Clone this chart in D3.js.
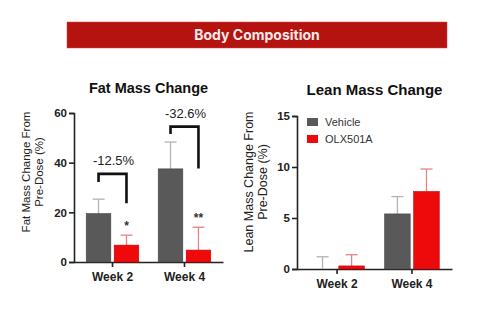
<!DOCTYPE html>
<html><head><meta charset="utf-8">
<script src="https://cdn.jsdelivr.net/npm/d3@7"></script>
<style>body{margin:0;background:#fff}svg{display:block}</style>
</head><body>
<svg id="c" width="483" height="322"></svg>
<script>
const categories = ["Week 2", "Week 4"];
const seriesNames = ["Vehicle", "OLX501A"];
const fatMean = [[19.5, 37.5], [6.8, 4.8]];
const fatErr = [[25.3, 48.3], [10.8, 14.0]];
const leanMean = [[0, 5.4], [0.3, 7.6]];
const leanErr = [[1.2, 7.1], [1.4, 9.8]];
const fatTicks = [0, 20, 40, 60];
const leanTicks = [0, 5, 10, 15];
const fatStars = ["*", "**"];
const fatPct = ["-12.5%", "-32.6%"];
// bracket: [top, leftLegBottom, rightLegBottom] in data units
const fatBracket = [[35.5, 32.2, 23.7], [54.5, 51.5, 37.7]];

const colors = ["#595959", "#ee0a0a"];
const errColors = ["#b3b3b3", "#e08585"];
const font = "'Liberation Sans', Arial, sans-serif";

const svg = d3.select("#c");
svg.append("rect").attr("x", 67).attr("y", 22).attr("width", 380).attr("height", 26)
  .attr("fill", "#b5130f").attr("stroke", "#d44").attr("stroke-width", 0.5);
svg.append("text").attr("x", 257).attr("y", 40).attr("text-anchor", "middle")
  .attr("font-family", "Inter, 'Liberation Sans', sans-serif").attr("font-weight", 700)
  .attr("font-size", 14).attr("fill", "#f6e9e9").text("Body Composition");

function panel(o) {
  const g = svg.append("g");
  const y = d3.scaleLinear().domain([0, o.max]).range([o.y0, o.y1]);
  const x = d3.scaleBand().domain(categories).range([o.x0, o.x1]).paddingInner(0.27).paddingOuter(0.17);
  const xs = d3.scaleBand().domain([0, 1]).range([0, x.bandwidth()]).paddingInner(0.12);
  const ya = g.append("g").attr("transform", `translate(${o.x0},0)`)
    .call(d3.axisLeft(y).tickValues(o.ticks).tickSize(5).tickPadding(2));
  ya.select(".domain").attr("stroke", "#222").attr("stroke-width", 1.6);
  ya.selectAll(".tick line").attr("stroke", "#222").attr("stroke-width", 1.6);
  ya.selectAll("text").attr("font-family", font).attr("font-size", 11.5).attr("font-weight", 700).attr("fill", "#222");
  const xa = g.append("g").attr("transform", `translate(0,${o.y0})`)
    .call(d3.axisBottom(x).tickSize(5).tickPadding(5).tickSizeOuter(0));
  xa.select(".domain").attr("stroke", "#222").attr("stroke-width", 1.6);
  xa.selectAll(".tick line").attr("stroke", "#222").attr("stroke-width", 1.6);
  xa.selectAll("text").attr("font-family", font).attr("font-size", 12).attr("font-weight", 700).attr("fill", "#222");

  [0, 1].forEach(s => {
    categories.forEach((c, i) => {
      const bx = x(c) + xs(s), w = xs.bandwidth(), cx = bx + w / 2;
      const yt = y(o.mean[s][i]), ye = y(o.err[s][i]);
      g.append("line").attr("x1", cx).attr("x2", cx).attr("y1", yt).attr("y2", ye)
        .attr("stroke", errColors[s]).attr("stroke-width", 1.3);
      g.append("line").attr("x1", cx - 6).attr("x2", cx + 6).attr("y1", ye).attr("y2", ye)
        .attr("stroke", errColors[s]).attr("stroke-width", 1.3);
      if (o.mean[s][i] > 0)
        g.append("rect").attr("x", bx).attr("y", yt).attr("width", w).attr("height", o.y0 - yt)
          .attr("fill", colors[s]).attr("stroke", s ? "#c00" : "#444").attr("stroke-width", 0.6);
    });
  });

  g.append("text").attr("x", (o.x0 + o.x1) / 2).attr("y", o.titleY).attr("text-anchor", "middle")
    .attr("font-family", font).attr("font-weight", 700).attr("font-size", o.titleSize).attr("fill", "#111").text(o.title);
  const lab = g.append("text").attr("transform", `translate(${o.labX},${o.labY}) rotate(-90)`)
    .attr("text-anchor", "middle").attr("font-family", font).attr("font-size", o.labSize).attr("fill", "#222");
  lab.append("tspan").attr("x", 0).attr("dy", 0).text(o.lab1);
  lab.append("tspan").attr("x", 0).attr("dy", o.labSize + 1.5).text(o.lab2);
  return {g, x, xs, y};
}

const fat = panel({x0: 74, x1: 223, y0: 262, y1: 113, max: 60, ticks: fatTicks, mean: fatMean, err: fatErr,
  title: "Fat Mass Change", titleY: 93, titleSize: 14.5, labX: 30, labY: 172, labSize: 11.5,
  lab1: "Fat Mass Change From", lab2: "Pre-Dose (%)"});
categories.forEach((c, i) => {
  const f = fat;
  const lx = f.x(c) + f.xs(0) + f.xs.bandwidth() / 2;
  const rx = f.x(c) + f.xs(1) + f.xs.bandwidth() / 2;
  const b = fatBracket[i];
  f.g.append("path").attr("d", `M${lx},${f.y(b[1])}V${f.y(b[0])}H${rx}V${f.y(b[2])}`)
    .attr("fill", "none").attr("stroke", "#111").attr("stroke-width", 2.6);
  f.g.append("text").attr("x", (lx + rx) / 2 + 1).attr("y", f.y(b[0]) - 9).attr("text-anchor", "middle")
    .attr("font-family", font).attr("font-size", 13).attr("fill", "#222").text(fatPct[i]);
  f.g.append("text").attr("x", rx).attr("y", f.y(fatErr[1][i]) - 5).attr("text-anchor", "middle")
    .attr("font-family", font).attr("font-size", 12).attr("font-weight", 700).attr("fill", "#333").text(fatStars[i]);
});

const lean = panel({x0: 297, x1: 452, y0: 269, y1: 116, max: 15, ticks: leanTicks, mean: leanMean, err: leanErr,
  title: "Lean Mass Change", titleY: 95, titleSize: 15, labX: 253, labY: 182, labSize: 12.5,
  lab1: "Lean Mass Change From", lab2: "Pre-Dose (%)"});
seriesNames.forEach((n, i) => {
  const ly = 122 + i * 17;
  svg.append("rect").attr("x", 307).attr("y", ly - 4).attr("width", 11).attr("height", 8).attr("fill", colors[i]);
  svg.append("text").attr("x", 325).attr("y", ly + 4).attr("font-family", font).attr("font-size", 11)
    .attr("fill", "#333").text(n);
});
</script>
</body></html>
